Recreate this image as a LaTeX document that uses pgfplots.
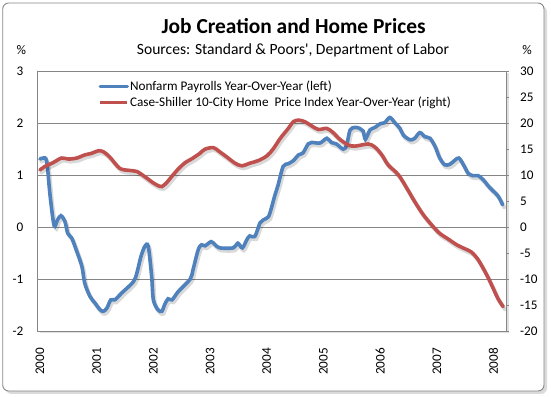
\documentclass[border=0pt]{standalone}
\usepackage{fontspec}
\setmainfont{Carlito}
\usepackage{pgfplots}
\usepackage{pgfplotstable}
\pgfplotsset{compat=1.18}
\definecolor{xlblue}{RGB}{79,129,189}
\definecolor{xlred}{RGB}{192,80,77}
\definecolor{xlgrid}{RGB}{134,134,134}

\pgfplotstableread{
x y
2000.00 1.31
2000.06 1.33
2000.12 1.26
2000.18 0.59
2000.25 0.03
2000.31 0.14
2000.37 0.22
2000.44 0.11
2000.49 -0.12
2000.56 -0.21
2000.65 -0.47
2000.74 -0.76
2000.79 -1.08
2000.88 -1.33
2000.97 -1.46
2001.06 -1.59
2001.12 -1.62
2001.18 -1.56
2001.25 -1.40
2001.32 -1.40
2001.44 -1.27
2001.65 -1.05
2001.71 -0.88
2001.78 -0.57
2001.85 -0.37
2001.91 -0.37
2001.97 -0.95
2002.00 -1.40
2002.08 -1.59
2002.15 -1.62
2002.20 -1.49
2002.26 -1.38
2002.33 -1.40
2002.44 -1.24
2002.65 -1.00
2002.70 -0.82
2002.79 -0.44
2002.85 -0.34
2002.91 -0.36
2003.02 -0.28
2003.09 -0.34
2003.17 -0.40
2003.41 -0.40
2003.49 -0.31
2003.57 -0.40
2003.65 -0.24
2003.70 -0.17
2003.79 -0.18
2003.88 0.08
2003.94 0.14
2004.03 0.20
2004.09 0.40
2004.14 0.60
2004.20 0.81
2004.29 1.17
2004.38 1.22
2004.47 1.28
2004.56 1.39
2004.64 1.43
2004.73 1.60
2004.79 1.63
2004.94 1.62
2005.06 1.71
2005.14 1.63
2005.23 1.60
2005.35 1.50
2005.41 1.58
2005.47 1.87
2005.56 1.92
2005.64 1.90
2005.70 1.85
2005.74 1.69
2005.82 1.87
2005.91 1.92
2006.00 1.99
2006.08 2.01
2006.17 2.11
2006.26 2.01
2006.35 1.90
2006.41 1.77
2006.53 1.68
2006.61 1.71
2006.70 1.82
2006.79 1.74
2006.88 1.71
2006.97 1.55
2007.05 1.33
2007.14 1.20
2007.23 1.21
2007.32 1.29
2007.39 1.33
2007.47 1.20
2007.55 1.04
2007.64 0.99
2007.73 0.99
2007.82 0.91
2007.91 0.79
2007.99 0.70
2008.08 0.60
2008.16 0.43
}\payrolls

\pgfplotstableread{
x y
2000.00 11.0
2000.09 11.7
2000.23 12.4
2000.38 13.3
2000.50 13.1
2000.65 13.3
2000.79 13.9
2000.91 14.2
2001.03 14.7
2001.12 14.5
2001.23 13.5
2001.41 11.3
2001.59 10.9
2001.71 10.7
2001.85 9.7
2002.00 8.5
2002.10 7.9
2002.15 7.8
2002.23 8.5
2002.32 9.7
2002.44 11.2
2002.56 12.4
2002.70 13.3
2002.82 14.2
2002.91 15.0
2003.06 15.3
2003.17 14.5
2003.32 13.3
2003.44 12.3
2003.56 11.8
2003.70 12.3
2003.85 12.8
2004.00 13.7
2004.11 15.0
2004.22 16.8
2004.26 17.4
2004.38 19.0
2004.47 20.3
2004.56 20.6
2004.67 20.3
2004.79 19.5
2004.91 18.8
2005.06 19.0
2005.17 18.2
2005.29 16.9
2005.44 15.8
2005.56 15.6
2005.79 16.0
2005.91 15.4
2006.03 13.9
2006.14 12.0
2006.32 10.1
2006.47 7.5
2006.61 4.9
2006.76 2.4
2006.91 0.4
2007.05 -1.2
2007.20 -2.3
2007.35 -3.4
2007.50 -4.2
2007.61 -4.8
2007.73 -6.3
2007.88 -9.2
2007.99 -11.7
2008.08 -13.8
2008.17 -15.3
}\caseshiller

\begin{document}
\begin{tikzpicture}
\useasboundingbox (0,0) rectangle (551bp,397bp);
% chart area frame with shadow
\fill[black!14, rounded corners=6bp] (5.5bp,3bp) rectangle (547bp,391bp);
\draw[xlgrid, fill=white, rounded corners=6bp, line width=0.9bp] (2.7bp,6bp) rectangle (544bp,394bp);
% plot area shadow
\fill[black!12] (40bp,63.5bp) rectangle (509bp,323.5bp);

% titles
\node[anchor=base, inner sep=0pt, font=\fontsize{21.4bp}{24bp}\selectfont\bfseries] at (293.6bp,363bp) {Job Creation and Home Prices};
\node[anchor=base, inner sep=0pt, font=\fontsize{15.6bp}{18bp}\selectfont] at (293bp,342bp) {Sources: Standard \& Poors\textquotesingle, Department of Labor};
\node[anchor=base, inner sep=0pt, font=\fontsize{13.2bp}{15bp}\selectfont] at (21.3bp,342bp) {\%};
\node[anchor=base, inner sep=0pt, font=\fontsize{13.2bp}{15bp}\selectfont] at (527bp,342bp) {\%};

\begin{axis}[
  at={(37.7bp,66bp)}, anchor=south west,
  scale only axis, width=468.3bp, height=259.7bp,
  axis background/.style={fill=white},
  xmin=1999.96, xmax=2008.22,
  ymin=-2, ymax=3,
  ytick={-2,-1,0,1,2,3},
  yticklabels={-2,-1,0,1,2,3},
  xtick={2000,2001,2002,2003,2004,2005,2006,2007,2008},
  xticklabels={2000,2001,2002,2003,2004,2005,2006,2007,2008},
  ytick pos=left, xtick pos=bottom,
  major tick length=0pt,
  ymajorgrids,
  grid style={xlgrid, line width=0.8bp},
  axis line style={xlgrid, line width=0.8bp},
  tick label style={font=\fontsize{13.2bp}{15bp}\selectfont, inner sep=0pt},
  yticklabel style={anchor=east},
  yticklabel shift=14.2bp,
  xticklabel style={rotate=90, anchor=east},
  xticklabel shift=17bp,
  legend style={draw=none, fill=none, at={(0.1294,0.9107)}, anchor=west,
    inner sep=0pt, row sep=2.5bp, nodes={inner sep=1bp},
    font=\fontsize{13.2bp}{15bp}\selectfont},
  legend cell align=left,
  legend image code/.code={\draw[#1] (0bp,0bp) -- (27bp,0bp);},
]
\addplot[forget plot, black, opacity=0.15, line width=4bp, line cap=round, smooth, xshift=1.5bp, yshift=-2.5bp] table[x=x,y=y] {\payrolls};
\addplot[xlblue, line width=3.6bp, line cap=round, smooth] table[x=x,y=y] {\payrolls};
\addlegendentry{Nonfarm Payrolls Year-Over-Year (left)}
\addlegendimage{xlred, line width=3.6bp}
\addlegendentry{Case-Shiller 10-City Home~ Price Index Year-Over-Year (right)}
\end{axis}

\begin{axis}[
  at={(37.7bp,66bp)}, anchor=south west,
  scale only axis, width=468.3bp, height=259.7bp,
  xmin=1999.96, xmax=2008.22,
  ymin=-20, ymax=30,
  axis x line=none,
  axis y line*=right,
  ytick={-20,-15,-10,-5,0,5,10,15,20,25,30},
  yticklabels={-20,-15,-10,-5,0,5,10,15,20,25,30},
  tick align=outside,
  major tick length=3bp,
  tick style={xlgrid, line width=0.8bp},
  axis line style={xlgrid, line width=0.8bp},
  tick label style={font=\fontsize{13.2bp}{15bp}\selectfont, inner sep=0pt},
  yticklabel style={anchor=west},
  yticklabel shift=11bp,
]
\addplot[black, opacity=0.15, line width=4bp, line cap=round, smooth, xshift=1.5bp, yshift=-2.5bp] table[x=x,y=y] {\caseshiller};
\addplot[xlred, line width=3.6bp, line cap=round, smooth] table[x=x,y=y] {\caseshiller};
\end{axis}
\end{tikzpicture}
\end{document}
